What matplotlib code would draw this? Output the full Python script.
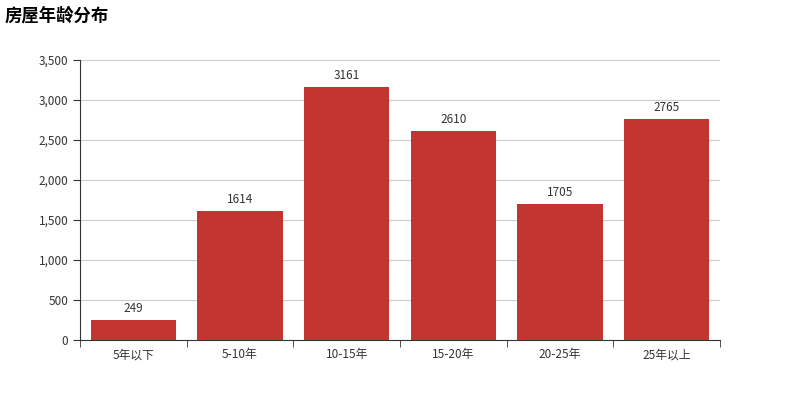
import matplotlib.pyplot as plt
from matplotlib.ticker import FuncFormatter, FixedLocator

plt.rcParams['font.family'] = ['Noto Sans CJK SC', 'DejaVu Sans']

# data
categories = ['5年以下', '5-10年', '10-15年', '15-20年', '20-25年', '25年以上']
counts = [249, 1614, 3161, 2610, 1705, 2765]

fig = plt.figure(figsize=(8, 4), dpi=100)
ax = fig.add_axes([0.1, 0.15, 0.8, 0.70])  # 80..720 px, 60..340 px

x = range(len(categories))
bars = ax.bar(x, counts, width=0.8, color='#c23531', zorder=3)
for i, v in enumerate(counts):
    ax.text(i, v + 60, str(v), ha='center', va='bottom', fontsize=8.5, color='#333333')

ax.set_xlim(-0.5, len(categories) - 0.5)
ax.set_ylim(0, 3500)
ax.set_yticks(range(0, 3501, 500))
ax.yaxis.set_major_formatter(FuncFormatter(lambda v, p: f'{int(v):,}'))
ax.grid(axis='y', color='#cccccc', linewidth=0.8, zorder=0)

ax.set_xticks(list(x))
ax.set_xticklabels(categories)
ax.xaxis.set_minor_locator(FixedLocator([i - 0.5 for i in range(len(categories) + 1)]))
ax.tick_params(axis='x', which='major', length=0, pad=6, labelsize=8.5, labelcolor='#333333')
ax.tick_params(axis='x', which='minor', length=5, color='#333333')
ax.tick_params(axis='y', length=5, color='#333333', labelsize=8.5, labelcolor='#333333')

for s in ['top', 'right']:
    ax.spines[s].set_visible(False)
for s in ['left', 'bottom']:
    ax.spines[s].set_color('#333333')

fig.text(0.006, 0.962, '房屋年龄分布', fontsize=12.5, fontweight='bold', ha='left', va='center', color='#000000')

fig.savefig('out.png', dpi=100)
